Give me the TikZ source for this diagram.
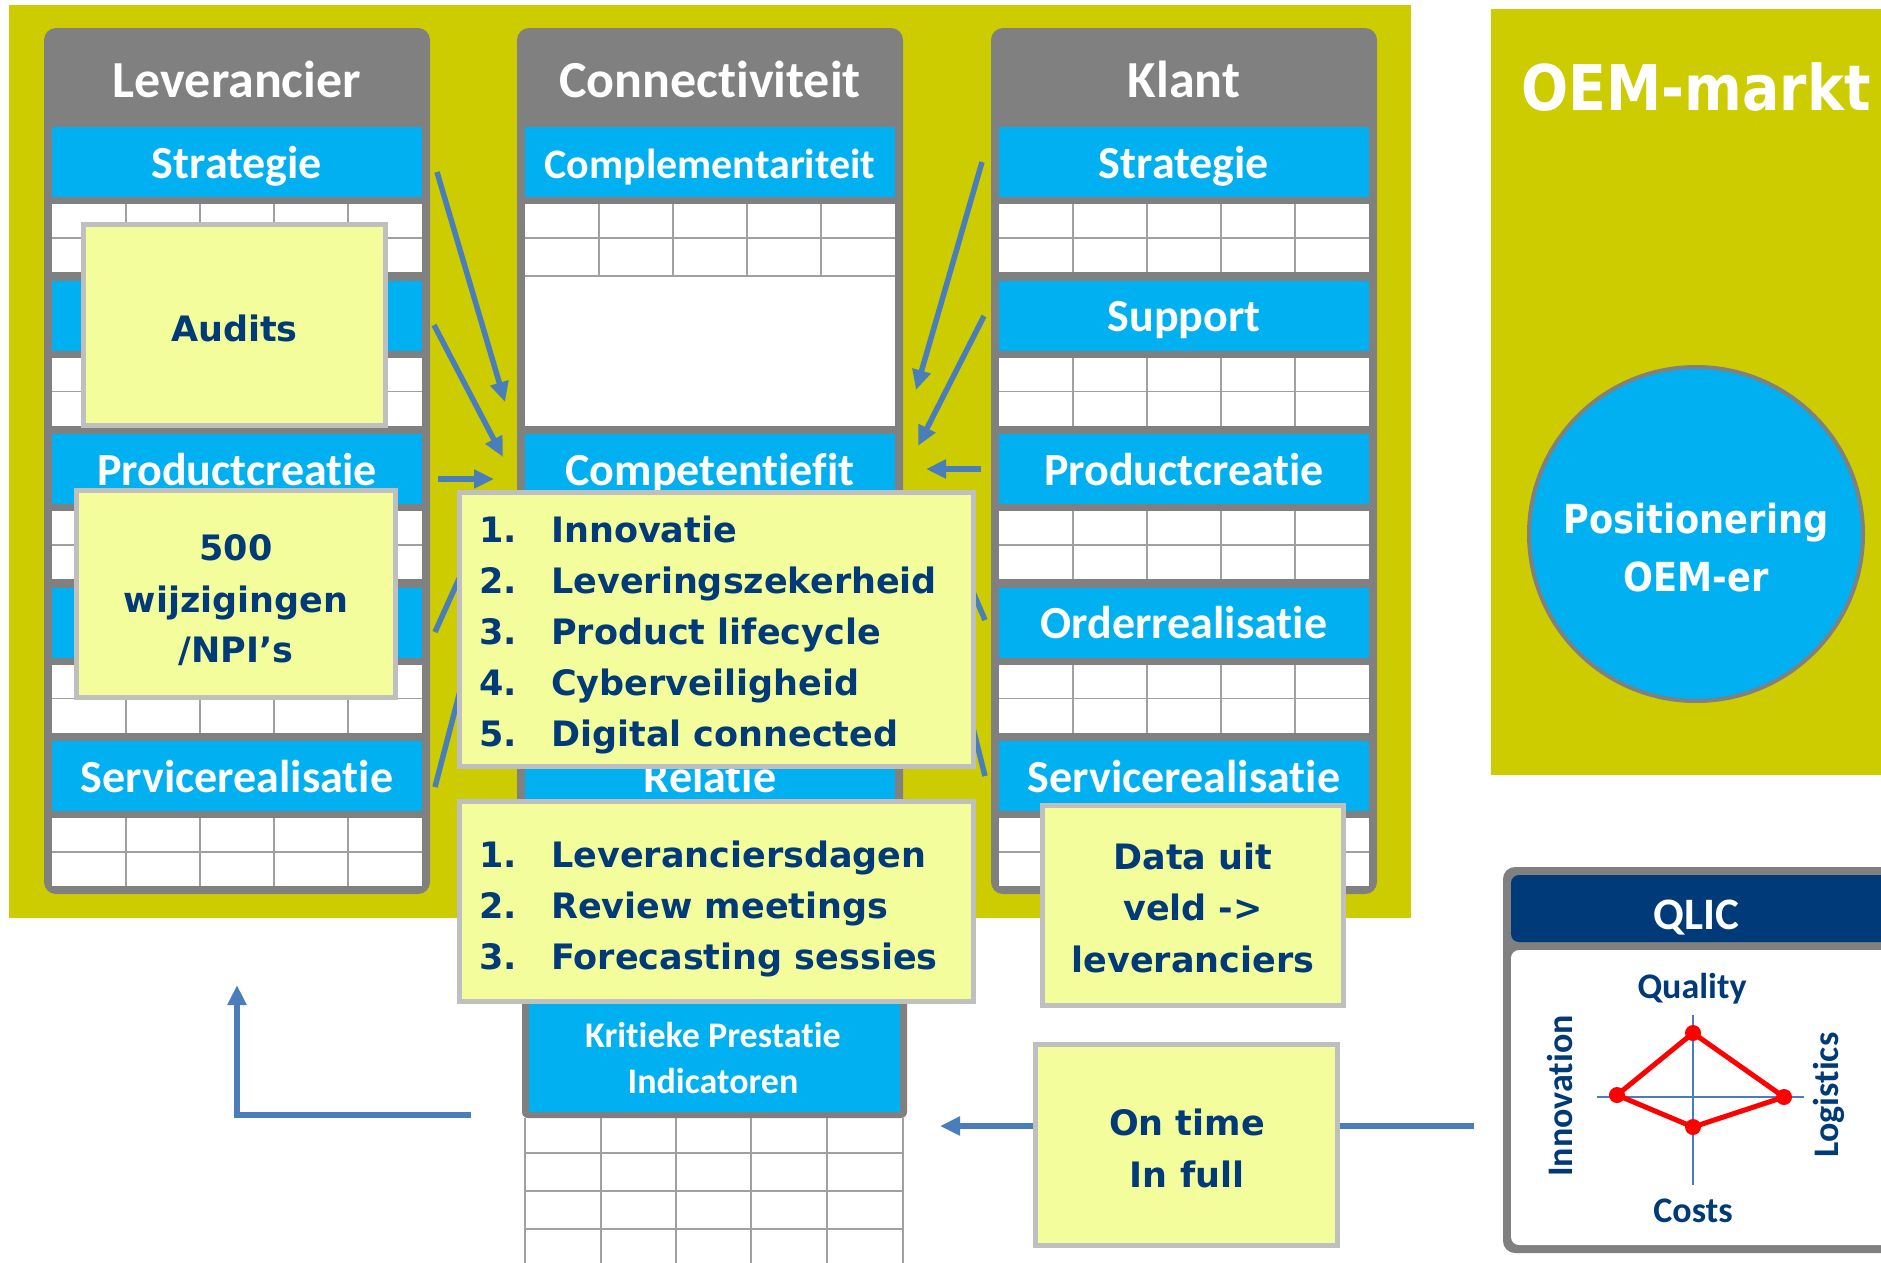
\documentclass[tikz,border=0pt]{standalone}
\usepackage{fontspec}
\setmainfont{Carlito}[RawFeature={-liga;-clig;-dlig;-calt}]
\newfontfamily\notefont{DejaVu Sans}
\newfontfamily\oemfont{DejaVu Sans}[FakeStretch=0.88]
\usetikzlibrary{arrows.meta}
\definecolor{olivebg}{RGB}{204,204,0}
\definecolor{colgray}{RGB}{128,128,128}
\definecolor{cyanband}{RGB}{0,176,240}
\definecolor{navy}{RGB}{0,58,120}
\definecolor{arrowblue}{RGB}{74,126,187}
\definecolor{notefill}{RGB}{243,253,156}
\definecolor{noteedge}{RGB}{191,191,191}
\definecolor{cellgray}{RGB}{160,160,160}
\newcommand\whiterows[3]{%
  \fill[white] (#1,{#2}) rectangle ({#1+370},{#3});
  \draw[cellgrid] (#1,{(#2+#3)/2}) -- ({#1+370},{(#2+#3)/2});
  \foreach \j in {1,...,4}{\draw[cellgrid] ({#1+74*\j},{#2}) -- ({#1+74*\j},{#3});}
}
\newcommand\bandrect[2]{\fill[cyanband] (#1,{#2}) rectangle ({#1+370},{#2+70});}
\begin{document}
\begin{tikzpicture}[x=1pt,y=-1pt,
  hdr/.style={text=white,font=\fontsize{52}{60}\selectfont\bfseries,anchor=base,inner sep=0pt},
  bandtxt/.style={text=white,font=\fontsize{46}{54}\selectfont\bfseries,anchor=base,inner sep=0pt},
  note/.style={draw=noteedge,line width=5pt,fill=notefill,inner sep=0pt},
  notetxt/.style={text=navy,font=\notefont\fontsize{35}{42}\selectfont\bfseries,anchor=base,inner sep=0pt},
  notelist/.style={notetxt,anchor=base west},
  arr/.style={draw=arrowblue,line width=5.5pt,-{Triangle[length=20pt,width=18pt]}},
  conn/.style={draw=arrowblue,line width=6pt},
  cellgrid/.style={draw=cellgray,line width=1.8pt},
  qtxt/.style={text=navy,font=\fontsize{36}{42}\selectfont\bfseries,inner sep=0pt},
  oemtxt/.style={text=white,font=\oemfont\fontsize{40}{48}\selectfont\bfseries,anchor=base,inner sep=0pt}
]
\useasboundingbox (0,0) rectangle (1881,1262);
\clip (0,0) rectangle (1881,1262);
\fill[white] (0,0) rectangle (1881,1262);
% backgrounds
\fill[olivebg] (9,5) rectangle (1411,918);
\fill[olivebg] (1491,9) rectangle (1881,775);
\node[text=white,font=\oemfont\fontsize{63}{70}\selectfont\bfseries,anchor=base,inner sep=0pt] (oem) at (1696,110) {OEM-markt};
\node[circle,draw=colgray,line width=4pt,fill=cyanband,minimum size=334pt,inner sep=0pt] (circ) at (1696,534) {};
\node[oemtxt] (pos1) at (1696,533) {Positionering};
\node[oemtxt] (pos2) at (1696,591) {OEM-er};

% ---------- Leverancier column
\fill[colgray,rounded corners=12pt] (44,28) rectangle (430,894);
\foreach \ya in {127,280.5,434,587.5,741}{\bandrect{52}{\ya}\whiterows{52}{\ya+77}{\ya+145}}
\node[hdr] (levh) at (237,97) {Leverancier};
\node[bandtxt] (lev1) at (237,178) {Strategie};
\node[bandtxt] (lev3) at (237,485) {Productcreatie};
\node[bandtxt] (lev5) at (237,792) {Servicerealisatie};

% ---------- Connectiviteit column
\fill[colgray,rounded corners=12pt] (517,28) rectangle (903,894);
\bandrect{525}{127}
\fill[white] (525,204) rectangle (895,426);
\draw[cellgrid] (525,238) -- (895,238);
\draw[cellgrid] (525,276) -- (895,276);
\foreach \j in {1,...,4}{\draw[cellgrid] ({525+74*\j},204) -- ({525+74*\j},276);}
\bandrect{525}{434}
\whiterows{525}{511}{579}
\bandrect{525}{587.5}
\whiterows{525}{664.5}{732.5}
\bandrect{525}{741}
\whiterows{525}{818}{886}
\node[hdr] (conh) at (710,97) {Connectiviteit};
\node[bandtxt,font=\fontsize{42}{50}\selectfont\bfseries] (con1) at (710,178) {Complementariteit};
\node[bandtxt] (con3) at (710,485) {Competentiefit};
\node[bandtxt] (con5) at (710,792) {Relatie};

% ---------- Klant column
\fill[colgray,rounded corners=12pt] (991,28) rectangle (1377,894);
\foreach \ya in {127,280.5,434,587.5,741}{\bandrect{999}{\ya}\whiterows{999}{\ya+77}{\ya+145}}
\node[hdr] (klah) at (1184,97) {Klant};
\node[bandtxt] (kla1) at (1184,178) {Strategie};
\node[bandtxt] (kla2) at (1184,331.5) {Support};
\node[bandtxt] (kla3) at (1184,485) {Productcreatie};
\node[bandtxt] (kla4) at (1184,638.5) {Orderrealisatie};
\node[bandtxt] (kla5) at (1184,792) {Servicerealisatie};

% ---------- KPI block
\fill[colgray,rounded corners=6pt] (522,980) rectangle (907,1118);
\fill[cyanband] (529,980) rectangle (900,1112);
\foreach \xx in {525,601,676,751,827,903}{\draw[draw=cellgray,line width=1.6pt] (\xx,1118) -- (\xx,1270);}
\foreach \yy in {1153,1191,1229}{\draw[draw=cellgray,line width=1.6pt] (525,\yy) -- (903,\yy);}
\node[text=white,font=\fontsize{36}{42}\selectfont\bfseries,anchor=base,inner sep=0pt] (kpi1) at (713,1047) {Kritieke Prestatie};
\node[text=white,font=\fontsize{36}{42}\selectfont\bfseries,anchor=base,inner sep=0pt] (kpi2) at (713,1093) {Indicatoren};

% ---------- arrows
\coordinate (a1s) at (437,172);  \coordinate (a1e) at (505,402);
\coordinate (a2s) at (434,325);  \coordinate (a2e) at (503,457);
\coordinate (a3s) at (438,479);  \coordinate (a3e) at (494,479);
\coordinate (a4s) at (435,632);  \coordinate (a4e) at (490,510);
\coordinate (a5s) at (435,787);  \coordinate (a5e) at (478,622);
\coordinate (b1s) at (982,162);  \coordinate (b1e) at (916,390);
\coordinate (b2s) at (984,316);  \coordinate (b2e) at (918,446);
\coordinate (b3s) at (981,469);  \coordinate (b3e) at (926,469);
\coordinate (b4s) at (985,620);  \coordinate (b4e) at (945,527);
\coordinate (b5s) at (985,776);  \coordinate (b5e) at (955,656);
\foreach \p in {a1,a2,a3,a4,a5,b1,b2,b3,b4,b5}{\draw[arr] (\p s) -- (\p e);}

% L-shaped arrow
\coordinate (lstart) at (471,1115);
\coordinate (ltip) at (237,985);
\draw[conn,-{Triangle[length=20pt,width=18pt]}] (lstart) -| (ltip);

% ---------- sticky notes
\node[note,minimum width=302pt,minimum height=201pt] (audits) at (234.5,325) {};
\node[notetxt] (auditst) at (234.5,341) {Audits};

\node[note,minimum width=319pt,minimum height=207pt] (npi) at (236,594) {};
\node[notetxt] (npi1) at (236,560) {500};
\node[notetxt] (npi2) at (236,612) {wijzigingen};
\node[notetxt] (npi3) at (236,662) {/NPI’s};

\node[note,minimum width=514pt,minimum height=274pt] (list1) at (716.5,629.5) {};
\foreach \n/\t/\yy in {1/Innovatie/542,2/Leveringszekerheid/593,3/Product lifecycle/644,4/Cyberveiligheid/695,5/Digital connected/746}{
  \node[notelist] (l1n\n) at (479,\yy) {\n.};
  \node[notelist] (l1t\n) at (551,\yy) {\t};
}

\node[note,minimum width=514pt,minimum height=200pt] (list2) at (716.5,901.5) {};
\foreach \n/\t/\yy in {1/Leveranciersdagen/867,2/Review meetings/918,3/Forecasting sessies/969}{
  \node[notelist] (l2n\n) at (479,\yy) {\n.};
  \node[notelist] (l2t\n) at (551,\yy) {\t};
}

\node[note,minimum width=301pt,minimum height=200pt] (data) at (1193,905.5) {};
\node[notetxt] (data1) at (1193,869) {Data uit};
\node[notetxt] (data2) at (1193,920) {veld ->};
\node[notetxt] (data3) at (1193,972) {leveranciers};

\node[note,minimum width=302pt,minimum height=201pt] (ontime) at (1186.5,1145) {};
\node[notetxt] (ot1) at (1187,1135) {On time};
\node[notetxt] (ot2) at (1187,1187) {In full};

% on-time connectors
\coordinate (kpitip) at (940,1126);
\coordinate (qlicfeed) at (1474,1126);
\draw[conn,-{Triangle[length=20pt,width=18pt]}] (ontime.west |- kpitip) -- (kpitip);
\draw[conn] (qlicfeed) -- (ontime.east |- qlicfeed);

% ---------- QLIC
\fill[colgray,rounded corners=12pt] (1503,867) rectangle (1910,1253);
\fill[white,rounded corners=8pt] (1511,950) rectangle (1902,1245);
\fill[navy,rounded corners=8pt] (1511,875) rectangle (1902,942);
\node[text=white,font=\fontsize{45}{52}\selectfont\bfseries,anchor=base,inner sep=0pt] (qlic) at (1696,929) {QLIC};
\node[qtxt,anchor=base] (qual) at (1692,998) {Quality};
\node[qtxt,anchor=base] (cost) at (1693,1222) {Costs};
\node[qtxt,anchor=base,rotate=90] (inno) at (1572,1096) {Innovation};
\node[qtxt,anchor=base,rotate=90] (logi) at (1838,1095) {Logistics};
\coordinate (ax1) at (1693,1015); \coordinate (ax2) at (1693,1185);
\coordinate (ax3) at (1597,1097); \coordinate (ax4) at (1804,1097);
\draw[draw=arrowblue,line width=1.8pt] (ax1) -- (ax2);
\draw[draw=arrowblue,line width=1.8pt] (ax3) -- (ax4);
\coordinate (pq) at (1693,1033);
\coordinate (pl) at (1784,1097);
\coordinate (pc) at (1693,1127);
\coordinate (pi) at (1617,1095);
\draw[red,line width=5pt,line join=round] (pq) -- (pl) -- (pc) -- (pi) -- cycle;
\foreach \p in {pq,pl,pc,pi}{\fill[red] (\p) circle (8pt);}
\end{tikzpicture}
\end{document}
